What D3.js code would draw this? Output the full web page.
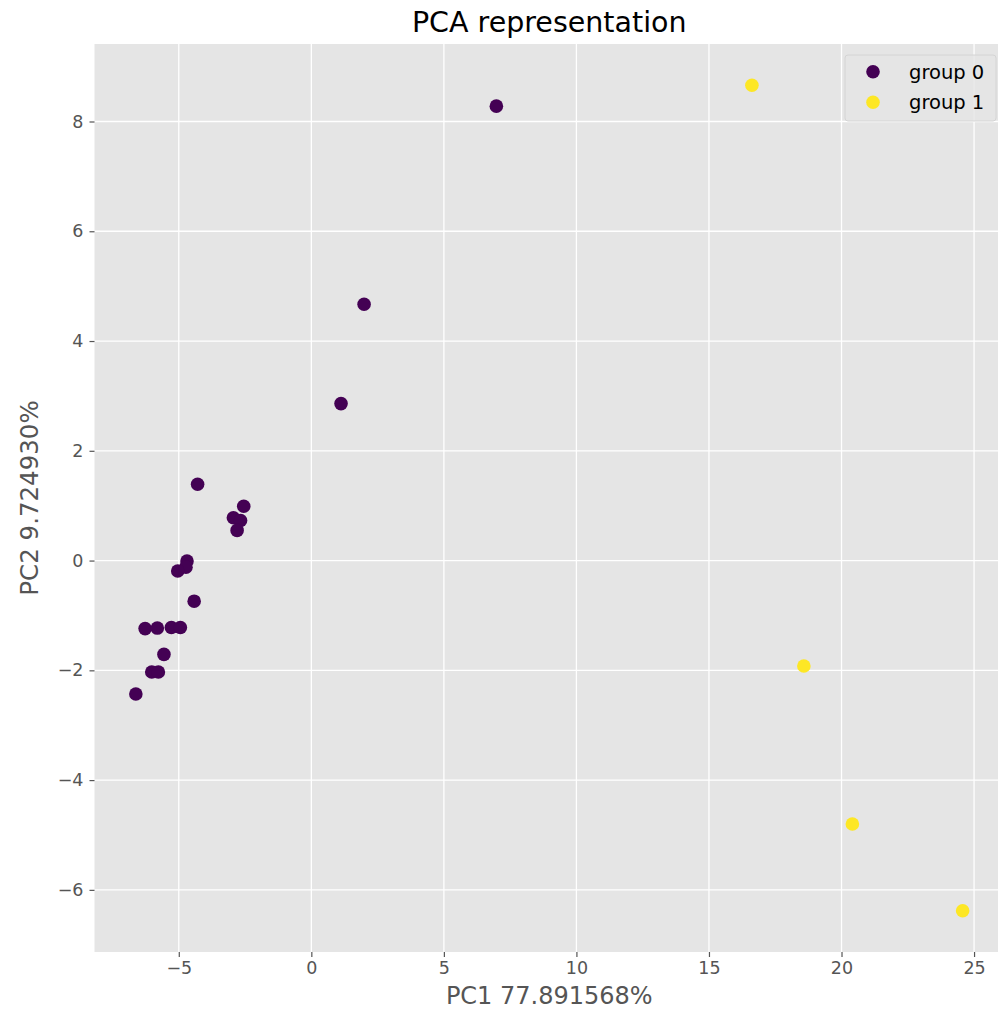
<!DOCTYPE html>
<html>
<head>
<meta charset="utf-8">
<script src="https://cdn.jsdelivr.net/npm/d3@7"></script>
<style>
  html, body { margin: 0; padding: 0; background: #fff; }
  svg { display: block; font-family: "DejaVu Sans", sans-serif; }
</style>
</head>
<body>
<svg id="chart" width="998" height="1023"></svg>
<script>
// ---- data ----
const group0X = [6.98, 1.99, 1.12, -4.29, -2.55, -2.94, -2.67, -2.80, -4.69, -4.73, -5.04, -4.42, -6.27, -5.81, -5.28, -4.94, -5.56, -6.02, -5.77, -6.62];
const group0Y = [8.28, 4.67, 2.86, 1.39, 0.99, 0.78, 0.73, 0.55, -0.01, -0.12, -0.19, -0.74, -1.24, -1.23, -1.22, -1.22, -1.71, -2.03, -2.03, -2.43];
const group1X = [16.62, 18.58, 20.41, 24.57];
const group1Y = [8.66, -1.92, -4.80, -6.38];
const groupNames = ["group 0", "group 1"];
const groupColors = ["#440154", "#fde725"];
const xTicks = [-5, 0, 5, 10, 15, 20, 25];
const yTicks = [-6, -4, -2, 0, 2, 4, 6, 8];
const titleText = "PCA representation";
const xLabel = "PC1 77.891568%";
const yLabel = "PC2 9.724930%";

// ---- layout ----
const svg = d3.select("#chart");
const L = 94.5, T = 44, B = 952, R = 1004;

const allX = group0X.concat(group1X), allY = group0Y.concat(group1Y);
const [xmin, xmax] = d3.extent(allX), [ymin, ymax] = d3.extent(allY);
const xpad = (xmax - xmin) * 0.05, ypad = (ymax - ymin) * 0.05;
const x = d3.scaleLinear().domain([xmin - xpad, xmax + xpad]).range([L, R]);
const y = d3.scaleLinear().domain([ymin - ypad, ymax + ypad]).range([B, T]);

// background
svg.append("rect").attr("x", L).attr("y", T).attr("width", R - L).attr("height", B - T).attr("fill", "#e5e5e5");

// grid
const grid = svg.append("g");
grid.selectAll(".vg").data(xTicks).join("line")
  .attr("x1", d => x(d)).attr("x2", d => x(d)).attr("y1", T).attr("y2", B)
  .attr("stroke", "#fff").attr("stroke-width", 1.3);
grid.selectAll(".hg").data(yTicks).join("line")
  .attr("y1", d => y(d)).attr("y2", d => y(d)).attr("x1", L).attr("x2", R)
  .attr("stroke", "#fff").attr("stroke-width", 1.3);

// axes
const xAxis = d3.axisBottom(x).tickValues(xTicks).tickSize(5).tickPadding(5)
  .tickFormat(d => d < 0 ? "\u2212" + Math.abs(d) : String(d));
const yAxis = d3.axisLeft(y).tickValues(yTicks).tickSize(5).tickPadding(6)
  .tickFormat(d => d < 0 ? "\u2212" + Math.abs(d) : String(d));

const gx = svg.append("g").attr("transform", `translate(0,${B})`).call(xAxis);
const gy = svg.append("g").attr("transform", `translate(${L},0)`).call(yAxis);
[gx, gy].forEach(g => {
  g.select(".domain").remove();
  g.selectAll(".tick line").attr("stroke", "#555").attr("stroke-width", 1.2);
  g.selectAll(".tick text").attr("fill", "#555").style("font-size", "17.5px").style("font-family", "DejaVu Sans");
});

// points
const pts0 = group0X.map((v, i) => ({x: v, y: group0Y[i], g: 0}));
const pts1 = group1X.map((v, i) => ({x: v, y: group1Y[i], g: 1}));
svg.append("g").selectAll("circle").data(pts0.concat(pts1)).join("circle")
  .attr("cx", d => x(d.x)).attr("cy", d => y(d.y)).attr("r", 6.8)
  .attr("fill", d => groupColors[d.g]);

// title & labels
svg.append("text").attr("x", (L + R) / 2).attr("y", 32).attr("text-anchor", "middle")
  .attr("fill", "#000").style("font-size", "28.5px").text(titleText);
svg.append("text").attr("x", (L + R) / 2).attr("y", 1004).attr("text-anchor", "middle")
  .attr("fill", "#555").style("font-size", "24px").text(xLabel);
svg.append("text").attr("transform", `translate(38,${(T + B) / 2}) rotate(-90)`).attr("text-anchor", "middle")
  .attr("fill", "#555").style("font-size", "24.5px").text(yLabel);

// legend
const lg = svg.append("g");
lg.append("rect").attr("x", 845).attr("y", 55).attr("width", 151).attr("height", 66).attr("rx", 3)
  .attr("fill", "#e5e5e5").attr("fill-opacity", 0.8).attr("stroke", "#d4d4d4").attr("stroke-width", 1);
groupNames.forEach((name, i) => {
  lg.append("circle").attr("cx", 873).attr("cy", 71.7 + i * 30.6).attr("r", 6.8).attr("fill", groupColors[i]);
  lg.append("text").attr("x", 909).attr("y", 71.7 + i * 30.6 + 7).attr("fill", "#000")
    .style("font-size", "19.5px").text(name);
});
</script>
</body>
</html>
